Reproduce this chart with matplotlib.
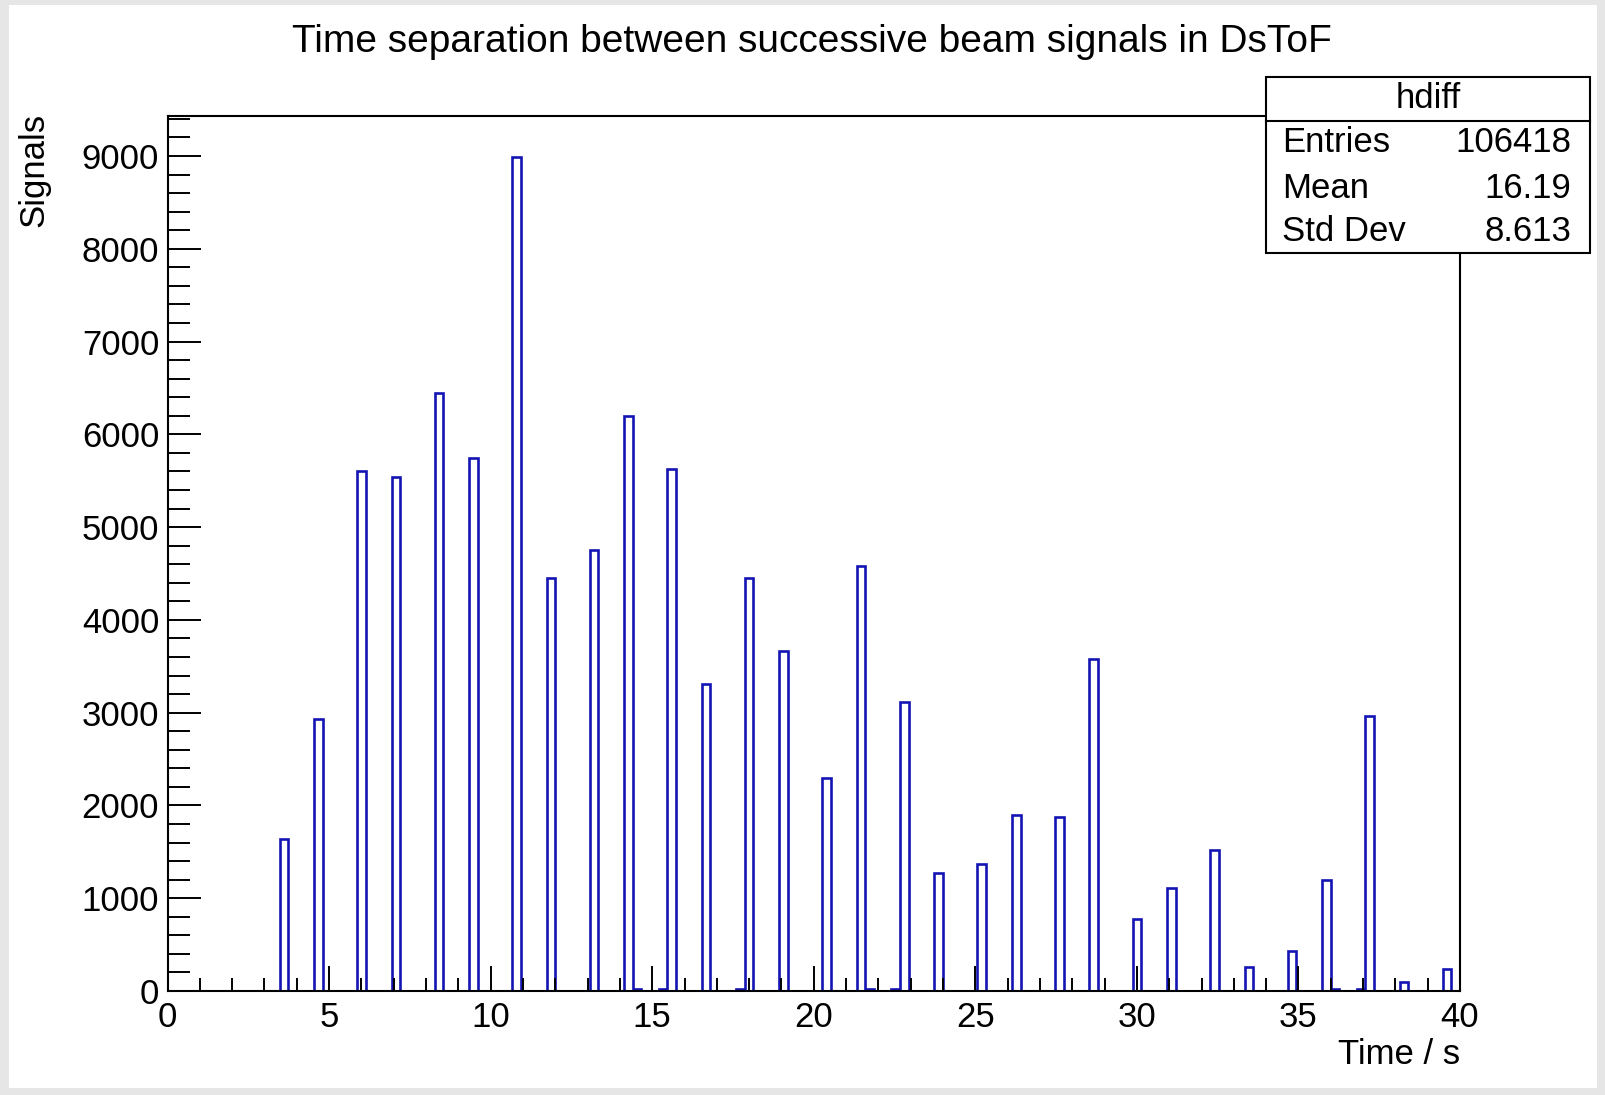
import numpy as np
import matplotlib
matplotlib.use("Agg")
import matplotlib.pyplot as plt
from matplotlib.patches import Rectangle
from matplotlib.ticker import MultipleLocator

plt.rcParams['font.family'] = ['Liberation Sans', 'DejaVu Sans']

# ---- data ----
n_bins = 150
x_min, x_max = 0.0, 40.0
peak_bins = [13, 17, 22, 26, 31, 35, 40, 44, 49, 53, 58, 62, 67, 71, 76, 80,
             85, 89, 94, 98, 103, 107, 112, 116, 121, 125, 130, 134, 139, 143, 148]
peak_counts = [1640, 2930, 5600, 5545, 6445, 5745, 8985, 4455, 4750, 6195, 5625,
               3305, 4455, 3660, 2295, 4585, 3110, 1270, 1365, 1895, 1875, 3580,
               772, 1115, 1520, 254, 430, 1200, 2965, 99, 232]
small_bins = [54, 57, 66, 81, 84, 135, 138]
small_counts = [25, 25, 20, 25, 20, 25, 20]

title = "Time separation between successive beam signals in DsToF"
xlabel = "Time / s"
ylabel = "Signals"
stats_name = "hdiff"
stats_rows = [("Entries", "106418"), ("Mean", "16.19"), ("Std Dev", "8.613")]

counts = np.zeros(n_bins)
counts[peak_bins] = peak_counts
counts[small_bins] = small_counts
edges = np.linspace(x_min, x_max, n_bins + 1)

W, H = 1605, 1095
fig = plt.figure(figsize=(W / 100, H / 100), dpi=100)
fig.patch.set_facecolor('#e6e6e6')
fig.patches.append(Rectangle((9 / W, 1 - 1088 / H), (1597 - 9) / W, (1088 - 5) / H,
                             transform=fig.transFigure, facecolor='white',
                             edgecolor='none', zorder=-5))

ax = fig.add_axes([167.5 / W, 1 - 991 / H, (1460 - 167.5) / W, (991 - 115.7) / H])
ax.set_zorder(1)
ax.set_facecolor('white')
ax.stairs(counts, edges, color='#1414b4', linewidth=1.9, baseline=0, zorder=1)

ax.set_xlim(x_min, x_max)
ax.set_ylim(0, 1.05 * max(peak_counts))

fs = 25
ax.xaxis.set_major_locator(MultipleLocator(5))
ax.xaxis.set_minor_locator(MultipleLocator(1))
ax.yaxis.set_major_locator(MultipleLocator(1000))
ax.yaxis.set_minor_locator(MultipleLocator(200))
ax.tick_params(axis='x', which='major', direction='in', length=18, width=1.4,
               labelsize=fs, pad=7, top=False)
ax.tick_params(axis='x', which='minor', direction='in', length=9.5, width=1.4, top=False)
ax.tick_params(axis='y', which='major', direction='in', length=23.5, width=1.4,
               labelsize=fs, pad=6, right=False)
ax.tick_params(axis='y', which='minor', direction='in', length=15.5, width=1.4, right=False)
for s in ax.spines.values():
    s.set_linewidth(1.5)
    s.set_color('black')
    s.set_zorder(3)

fig.text(812 / W, 1 - 42 / H, title, ha='center', va='center', fontsize=28)
fig.text(1460 / W, 1 - 1054 / H, xlabel, ha='right', va='center', fontsize=fs)
fig.text(34 / W, 1 - 113 / H, ylabel, ha='center', va='top', rotation=90, fontsize=fs)

# stats box
bx0, bx1 = 1266 / W, 1590 / W
by_top, by_bot = 1 - 77 / H, 1 - 253 / H
fig.patches.append(Rectangle((bx0, by_bot), bx1 - bx0, by_top - by_bot,
                             transform=fig.transFigure, facecolor='white',
                             edgecolor='black', linewidth=1.5, zorder=5))
fig.lines.append(plt.Line2D([bx0, bx1], [1 - 121 / H, 1 - 121 / H],
                            transform=fig.transFigure, color='black',
                            linewidth=1.5, zorder=6))
fig.text((bx0 + bx1) / 2, 1 - 99 / H, stats_name, ha='center', va='center',
         fontsize=fs, zorder=7)
row_y = [143, 188, 232]
for (lab, val), yy in zip(stats_rows, row_y):
    fig.text(1282 / W, 1 - yy / H, lab, ha='left', va='center', fontsize=fs, zorder=7)
    fig.text(1571 / W, 1 - yy / H, val, ha='right', va='center', fontsize=fs, zorder=7)

fig.savefig("out.png", dpi=100, facecolor=fig.get_facecolor())
